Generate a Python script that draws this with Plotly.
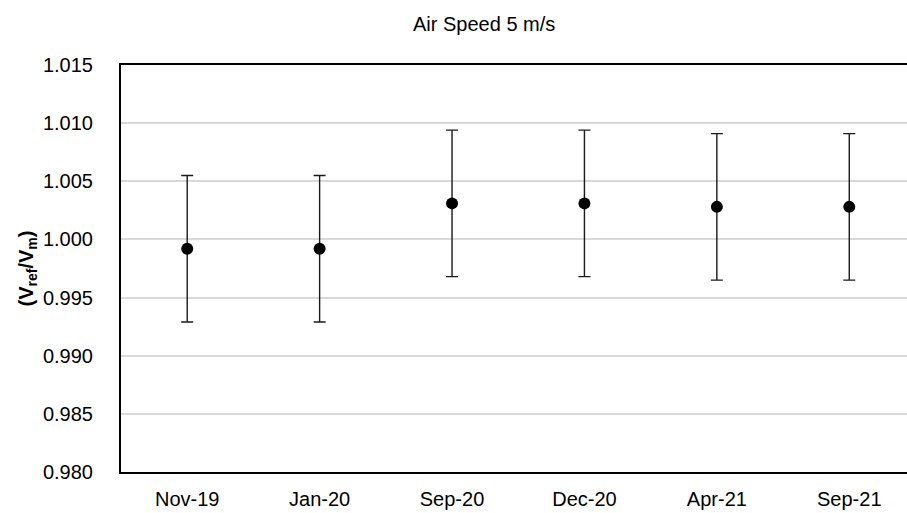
import plotly.graph_objects as go

categories = ["Nov-19", "Jan-20", "Sep-20", "Dec-20", "Apr-21", "Sep-21"]
ratio = [0.9992, 0.9992, 1.0031, 1.0031, 1.0028, 1.0028]
uncertainty = [0.0063, 0.0063, 0.0063, 0.0063, 0.0063, 0.0063]
y_ticks = [0.980, 0.985, 0.990, 0.995, 1.000, 1.005, 1.010, 1.015]

FONT = "Liberation Sans, Arial, sans-serif"

fig = go.Figure()
fig.add_trace(go.Scatter(
    x=list(range(len(categories))),
    y=ratio,
    mode="markers",
    marker=dict(size=12, color="black"),
    error_y=dict(type="data", array=uncertainty, visible=True,
                 color="#1a1a1a", thickness=1.4, width=6),
    showlegend=False,
))

fig.update_layout(
    width=907, height=513,
    margin=dict(l=121, r=0, t=65, b=41),
    paper_bgcolor="white", plot_bgcolor="white",
    font=dict(family=FONT, size=20, color="black"),
    xaxis=dict(
        range=[-0.5, 5.436],
        tickmode="array",
        tickvals=list(range(len(categories))),
        ticktext=categories,
        showgrid=False, zeroline=False,
        showline=True, linecolor="black", linewidth=2, mirror=True,
        ticks="", ticklabelstandoff=8,
    ),
    yaxis=dict(
        range=[0.980, 1.015],
        tickmode="array",
        tickvals=y_ticks,
        ticktext=[f"{v:.3f}" for v in y_ticks],
        showgrid=True, gridcolor="#d9d9d9", gridwidth=2,
        zeroline=False,
        showline=True, linecolor="black", linewidth=2,
        ticks="", ticklabelstandoff=22,
        title=dict(text="<b>(V<sub>ref</sub>/V<sub>m</sub>)</b>",
                   font=dict(size=20), standoff=4),
    ),
    annotations=[dict(
        text="Air Speed 5 m/s", xref="paper", yref="paper",
        x=0.462, y=1, yshift=41, xanchor="center", yanchor="middle",
        showarrow=False, font=dict(size=20),
    )],
)

fig.write_html("out.html")
